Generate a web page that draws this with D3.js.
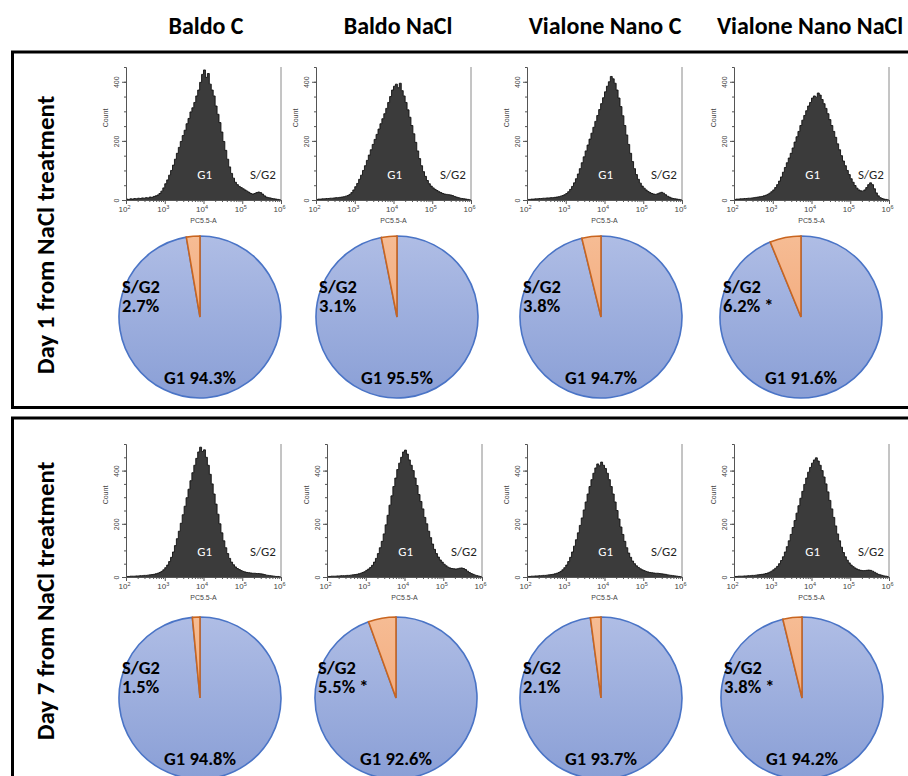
<!DOCTYPE html>
<html>
<head>
<meta charset="utf-8">
<script src="https://cdn.jsdelivr.net/npm/d3@7/dist/d3.min.js"></script>
<style>
  html, body { margin: 0; padding: 0; background: #fff; }
  svg { display: block; }
</style>
</head>
<body>
<svg id="chart" width="908" height="776"></svg>
<script>
// ---------------- DATA ----------------
const columns = ["Baldo C", "Baldo NaCl", "Vialone Nano C", "Vialone Nano NaCl"];
const rowLabels = ["Day 1 from NaCl treatment", "Day 7 from NaCl treatment"];

// pie percentages
const sg2Day1 = [2.7, 3.1, 3.8, 6.2];
const g1Day1 = [94.3, 95.5, 94.7, 91.6];
const starDay1 = [false, false, false, true];
const sg2Day7 = [1.5, 5.5, 2.1, 3.8];
const g1Day7 = [94.8, 92.6, 93.7, 94.2];
const starDay7 = [false, true, false, true];

// histogram bins: log10(PC5.5-A) from 2.00 in steps of 0.05 (80 bins)
const binLogStart = 2.0;
const binLogStep = 0.05;

const histD1BaldoC = [
  3,2,4,3,5,4,6,5,7,6, 8,7,10,9,12,14,17,22,30,41,
  55,68,84,100,118,138,158,178,198,218, 236,258,276,298,312,330,352,372,398,425,
  440,415,428,392,372,352,318,290,262,230, 198,168,138,112,90,74,60,52,46,42,
  38,34,30,26,22,20,22,25,27,25, 20,14,10,8,7,5,4,3,2,1];
const histD1BaldoNaCl = [
  2,3,3,4,4,5,5,6,6,7, 8,8,9,10,11,13,15,19,25,34,
  45,56,70,84,100,116,134,152,170,188, 205,222,240,258,275,292,310,330,350,372,
  385,392,380,395,370,352,330,305,280,252, 224,195,166,140,116,96,80,66,55,47,
  41,36,32,28,25,22,20,19,18,17, 15,12,10,8,6,5,4,3,2,1];
const histD1VialoneC = [
  2,2,3,3,4,4,5,5,6,6, 7,7,8,8,9,10,11,13,15,18,
  22,28,36,46,58,72,88,106,126,146, 166,186,206,226,246,266,286,306,326,346,
  366,385,400,418,410,395,372,345,316,285, 252,220,188,158,130,106,86,70,57,47,
  40,34,29,25,22,20,19,21,24,26, 23,18,13,10,7,5,4,3,2,1];
const histD1VialoneNaCl = [
  2,3,3,4,4,5,5,6,6,7, 8,9,10,11,12,14,16,19,23,28,
  34,42,52,64,78,94,110,126,142,158, 176,196,214,232,252,270,286,302,318,330,
  345,352,348,362,355,340,326,310,292,272, 252,232,212,190,170,150,132,116,100,86,
  72,60,49,40,34,31,30,34,42,52, 58,52,38,24,14,8,5,3,2,1];
const histD7BaldoC = [
  2,2,3,3,3,4,4,5,5,6, 6,7,8,9,10,12,14,17,21,27,
  35,45,58,74,94,118,144,172,202,234, 266,298,330,362,392,420,446,470,488,472,
  478,450,420,386,350,312,274,236,200,166, 136,110,88,70,56,46,38,32,28,24,
  21,19,17,16,15,14,14,13,13,12, 11,9,7,6,5,4,3,2,2,1];
const histD7BaldoNaCl = [
  2,2,3,3,3,4,4,5,5,5, 6,6,7,8,9,10,12,14,17,20,
  25,30,36,44,56,70,88,110,134,162, 196,232,270,305,340,372,404,428,450,470,
  477,462,440,420,400,372,344,310,284,256, 224,200,172,148,124,104,88,75,64,56,
  48,42,37,34,32,31,30,31,33,34, 32,28,22,17,13,10,7,5,3,2];
const histD7VialoneC = [
  2,2,3,3,4,4,5,5,6,6, 7,8,9,10,12,14,17,21,27,35,
  45,58,74,94,116,140,166,194,222,252, 282,312,340,366,390,410,425,418,432,420,
  408,390,366,340,312,282,250,218,188,160, 134,110,90,74,60,50,42,36,31,27,
  24,21,19,17,16,15,14,14,13,12, 11,10,8,7,6,5,4,3,2,1];
const histD7VialoneNaCl = [
  2,2,3,3,3,4,4,5,5,6, 6,7,8,9,10,11,13,15,18,22,
  27,33,40,50,62,76,94,114,136,160, 186,212,240,268,296,322,348,372,394,412,
  428,440,448,436,420,400,376,350,320,288, 256,224,192,162,136,112,92,76,63,53,
  45,39,34,30,27,25,24,24,25,26, 25,22,18,14,10,8,6,4,3,2];

// events piled up at the lower edge of the scale (first channel)
const edgeCountsDay1 = [120, 60, 40, 180];
const edgeCountsDay7 = [60, 94, 30, 40];

const yTickValues = [0, 200, 400];
const yMinorStep = 50;
const yMaxDay1 = 450;
const yMaxDay7 = 500;
const xDecades = [2, 3, 4, 5, 6];
const xTickBase = "10";
const xTickExponents = ["2", "3", "4", "5", "6"];
const xAxisTitle = "PC5.5-A";
const yAxisTitle = "Count";

// ---------------- LAYOUT ----------------
const rows = [
  { hists: [histD1BaldoC, histD1BaldoNaCl, histD1VialoneC, histD1VialoneNaCl],
    sg2: sg2Day1, g1: g1Day1, star: starDay1, edge: edgeCountsDay1, yMax: yMaxDay1 },
  { hists: [histD7BaldoC, histD7BaldoNaCl, histD7VialoneC, histD7VialoneNaCl],
    sg2: sg2Day7, g1: g1Day7, star: starDay7, edge: edgeCountsDay7, yMax: yMaxDay7 }
];
const L = {
  headerX: [206, 398, 605, 810], headerY: 34,
  histLeft: [[126, 316, 527, 734], [126, 327, 527, 734]],
  histW: 155, histH: 133, histBase: [200, 577],
  pieCx: [[200, 397, 601, 801], [200, 396, 601, 802]],
  pieCy: [317, 698], pieR: 81,
  rowLabelCx: 45, rowLabelCy: [235, 601],
  frames: [{ x: 12.5, y: 52, h: 355.5 }, { x: 12.5, y: 418, h: 420 }]
};

const svg = d3.select("#chart");
const defs = svg.append("defs");
const gb = defs.append("linearGradient").attr("id", "blueGrad").attr("x1", 0).attr("y1", 0).attr("x2", 0).attr("y2", 1);
gb.append("stop").attr("offset", "0%").attr("stop-color", "#afbde5");
gb.append("stop").attr("offset", "100%").attr("stop-color", "#8a9fd6");
const go = defs.append("linearGradient").attr("id", "orangeGrad").attr("x1", 0).attr("y1", 0).attr("x2", 0).attr("y2", 1);
go.append("stop").attr("offset", "0%").attr("stop-color", "#f6bc94");
go.append("stop").attr("offset", "100%").attr("stop-color", "#f3ad80");

const boldFont = "Carlito, Calibri, Lato, 'Open Sans', sans-serif";
const smallFont = "'Liberation Sans', Arial, sans-serif";

// frames
L.frames.forEach(f => {
  svg.append("rect").attr("x", f.x).attr("y", f.y).attr("width", 930).attr("height", f.h)
    .attr("fill", "none").attr("stroke", "#000").attr("stroke-width", 3);
});

// column headers
svg.selectAll("text.header").data(columns).join("text")
  .attr("class", "header")
  .attr("x", (d, i) => L.headerX[i]).attr("y", L.headerY)
  .attr("text-anchor", "middle")
  .style("font-family", boldFont).style("font-weight", 700).style("font-size", "24px")
  .text(d => d);

// row labels
rowLabels.forEach((t, r) => {
  svg.append("text")
    .attr("transform", `translate(${L.rowLabelCx},${L.rowLabelCy[r]}) rotate(-90)`)
    .attr("text-anchor", "middle").attr("dy", "0.35em")
    .style("font-family", boldFont).style("font-weight", 700).style("font-size", "25px")
    .text(t);
});

const angle = d3.scaleLinear().domain([0, 100]).range([0, 2 * Math.PI]);

rows.forEach((row, r) => {
  row.hists.forEach((counts, c) => {
    const left = L.histLeft[r][c];
    const base = L.histBase[r];
    const x = d3.scaleLog().domain([1e2, 1e6]).range([left, left + L.histW]);
    const y = d3.scaleLinear().domain([0, row.yMax]).range([base, base - L.histH]);
    const g = svg.append("g");

    // histogram points (step)
    const pts = counts.map((v, i) => ({ lx: binLogStart + binLogStep * i, v }));
    pts.push({ lx: binLogStart + binLogStep * counts.length, v: counts[counts.length - 1] });
    const area = d3.area()
      .x(d => x(Math.pow(10, d.lx))).y0(base).y1(d => y(d.v))
      .curve(d3.curveStepAfter);
    const line = d3.line()
      .x(d => x(Math.pow(10, d.lx))).y(d => y(d.v))
      .curve(d3.curveStepAfter);
    g.append("path").datum(pts).attr("d", area).attr("fill", "#3b3b3b");
    g.append("path").datum(pts).attr("d", line).attr("fill", "none")
      .attr("stroke", "#111").attr("stroke-width", 0.9);

    // edge pile-up line
    g.append("line").attr("x1", x(1e2) + 0.5).attr("x2", x(1e2) + 0.5)
      .attr("y1", base).attr("y2", y(row.edge[c]))
      .attr("stroke", "#222").attr("stroke-width", 1);

    // right border
    g.append("line").attr("x1", x(1e6)).attr("x2", x(1e6))
      .attr("y1", base).attr("y2", base - L.histH)
      .attr("stroke", "#8a8a8a").attr("stroke-width", 1);

    // y axis minor
    const yMinor = d3.range(0, row.yMax + 1, yMinorStep);
    g.append("g").attr("transform", `translate(${left},0)`)
      .call(d3.axisLeft(y).tickValues(yMinor).tickSize(2).tickFormat(""))
      .call(s => s.select(".domain").attr("stroke", "#555"))
      .call(s => s.selectAll(".tick line").attr("stroke", "#555"));
    // y axis major
    const ya = g.append("g").attr("transform", `translate(${left},0)`)
      .call(d3.axisLeft(y).tickValues(yTickValues).tickSize(4).tickSizeOuter(0))
      .call(s => s.select(".domain").remove())
      .call(s => s.selectAll(".tick line").attr("stroke", "#555"));
    ya.selectAll(".tick text")
      .attr("transform", "rotate(-90)").attr("x", 0).attr("y", -7).attr("dy", 0)
      .attr("text-anchor", "middle")
      .style("font-family", smallFont).style("font-size", "7px").attr("fill", "#444");
    // y title
    g.append("text")
      .attr("transform", `translate(${left - 18},${base - 82}) rotate(-90)`)
      .attr("text-anchor", "middle")
      .style("font-family", smallFont).style("font-size", "7px").attr("fill", "#444")
      .text(yAxisTitle);

    // x axis minor
    const minorVals = [];
    xDecades.slice(0, -1).forEach(e => { for (let k = 2; k <= 9; k++) minorVals.push(k * Math.pow(10, e)); });
    g.append("g").attr("transform", `translate(0,${base})`)
      .call(d3.axisBottom(x).tickValues(minorVals).tickSize(2).tickFormat(""))
      .call(s => s.select(".domain").attr("stroke", "#555"))
      .call(s => s.selectAll(".tick line").attr("stroke", "#555"));
    const xa = g.append("g").attr("transform", `translate(0,${base})`)
      .call(d3.axisBottom(x).tickValues(xDecades.map(e => Math.pow(10, e)))
        .tickSize(4).tickFormat(() => xTickBase))
      .call(s => s.select(".domain").remove())
      .call(s => s.selectAll(".tick line").attr("stroke", "#555"));
    xa.selectAll(".tick text").attr("y", 6).attr("dx", "-2")
      .style("font-family", smallFont).style("font-size", "8px").attr("fill", "#444")
      .each(function (d, i) {
        d3.select(this).append("tspan").attr("dy", "-3").style("font-size", "5.5px")
          .text(xTickExponents[i]);
      });
    g.append("text").attr("x", x(1e4)).attr("y", base + 23).attr("text-anchor", "middle")
      .style("font-family", smallFont).style("font-size", "7px").attr("fill", "#444")
      .text(xAxisTitle);

    // population labels
    g.append("text").attr("x", x(Math.pow(10, 4.03))).attr("y", base - 21)
      .attr("text-anchor", "middle").attr("fill", "#fff")
      .style("font-family", boldFont).style("font-size", "13px").text("G1");
    g.append("text").attr("x", x(Math.pow(10, 5.2))).attr("y", base - 21)
      .attr("text-anchor", "start").attr("fill", "#222")
      .style("font-family", boldFont).style("font-size", "13px").text("S/G2");

    // ---------- pie ----------
    const cx = L.pieCx[r][c], cy = L.pieCy[r], R = L.pieR;
    const pg = svg.append("g").attr("transform", `translate(${cx},${cy})`);
    const a0 = -angle(row.sg2[c]);
    const pie = d3.pie().sort(null).value(d => d.v).startAngle(a0).endAngle(a0 + 2 * Math.PI);
    const pieData = pie([{ k: "S/G2", v: row.sg2[c] }, { k: "rest", v: 100 - row.sg2[c] }]);
    const arc = d3.arc().innerRadius(0).outerRadius(R);
    pg.selectAll("path").data(pieData.slice().reverse()).join("path")
      .attr("d", arc)
      .attr("fill", d => d.data.k === "S/G2" ? "url(#orangeGrad)" : "url(#blueGrad)")
      .attr("stroke", d => d.data.k === "S/G2" ? "#c9651f" : "#4a74c6")
      .attr("stroke-width", 1.6).attr("stroke-linejoin", "miter");

    const tStyle = s => s.style("font-family", boldFont).style("font-weight", 700).style("font-size", "18.5px").attr("fill", "#000");
    pg.append("text").attr("x", -78).attr("y", -24).call(tStyle).text("S/G2");
    pg.append("text").attr("x", -78).attr("y", -5).call(tStyle)
      .text(row.sg2[c].toFixed(1) + "%" + (row.star[c] ? " *" : ""));
    pg.append("text").attr("x", 0).attr("y", 67).attr("text-anchor", "middle").call(tStyle)
      .text("G1 " + row.g1[c].toFixed(1) + "%");
  });
});
</script>
</body>
</html>
